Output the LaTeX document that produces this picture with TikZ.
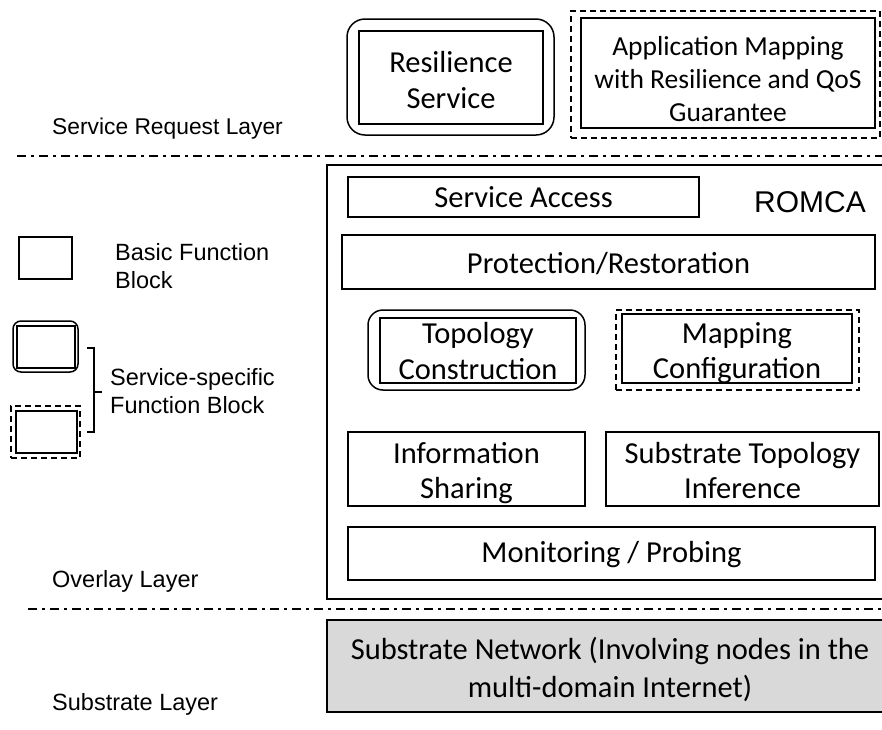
\documentclass[tikz,border=0pt]{standalone}
\usepackage{fontspec}
\newfontfamily\arialf{Liberation Sans}
\newfontfamily\calf{Carlito}
\definecolor{substrategray}{HTML}{D9D9D9}
\begin{document}
\begin{tikzpicture}[x=1pt,y=-1pt,
  % function block frame and its caption
  fb/.style={draw, line width=1.5pt, inner sep=0pt},
  fbtext/.style={inner sep=0pt, align=center,
    font=\calf\fontsize{30.5}{35.5}\selectfont,
    execute at begin node=\vphantom{lg}, execute at end node=\vphantom{lg}},
  shell/.style={draw, line width=1.5pt, inner sep=0pt},
  rshell/.style={shell, rounded corners=#1},
  dshell/.style={shell, dash pattern=on 6pt off 4pt},
  layerline/.style={line width=2pt, dash pattern=on 9pt off 5pt on 3pt off 5pt},
  lbl/.style={inner sep=0pt, align=left, font=\arialf\fontsize{23.5}{28}\selectfont},
]
\useasboundingbox (0,0) rectangle (882,729);
\clip (0,0) rectangle (882,729);

% ---------- service request layer ----------
\node[rshell=18pt, minimum width=207pt, minimum height=116pt] (resO) at (450.5,77) {};
\node[fb, minimum width=184pt, minimum height=93pt] (res) at (451,77.5) {};
\node[fbtext] (resT) at (451,82.6) {Resilience\\Service};

\node[dshell, minimum width=309pt, minimum height=127pt] (appO) at (725.5,74.5) {};
\node[fb, minimum width=294pt, minimum height=110pt] (app) at (728,73) {};
\node[fbtext, font=\calf\fontsize{27.5}{33}\selectfont] (appT) at (728,81.7)
  {Application Mapping\\with Resilience and QoS\\Guarantee};

\node[lbl, anchor=base west, font=\arialf\fontsize{22.8}{28}\selectfont]
  (lreq) at (52,134) {Service Request Layer};

% layer separators
\coordinate (sepAl) at (17,156);
\coordinate (sepAr) at (882,156);
\draw[layerline] (sepAl) -- (sepAr);
\coordinate (sepBl) at (28,609);
\coordinate (sepBr) at (882,609);
\draw[layerline] (sepBl) -- (sepBr);

% ---------- overlay layer: ROMCA ----------
\node[draw, line width=2pt, inner sep=0pt, minimum width=566pt, minimum height=434pt]
  (romca) at (610,382) {};
\node[inner sep=0pt, anchor=base, font=\arialf\fontsize{30}{34}\selectfont]
  (romcaT) at (810,212) {ROMCA};

\node[fb, minimum width=351pt, minimum height=40pt] (acc) at (523.5,197) {};
\node[fbtext] (accT) at (523.5,200) {Service Access};

\node[fb, minimum width=533pt, minimum height=54pt] (prot) at (608.5,262) {};
\node[fbtext] (protT) at (608.5,266) {Protection/Restoration};

\node[rshell=15pt, minimum width=217pt, minimum height=80pt] (topoO) at (476.5,350) {};
\node[fb, minimum width=196pt, minimum height=65pt] (topo) at (478,350.5) {};
\node[fbtext] (topoT) at (478,353.5) {Topology\\Construction};

\node[dshell, minimum width=243pt, minimum height=80pt] (mapO) at (737.5,350) {};
\node[fb, minimum width=230pt, minimum height=69pt] (map) at (737,348.5) {};
\node[fbtext] (mapT) at (737,353) {Mapping\\Configuration};

\node[fb, minimum width=237pt, minimum height=74pt] (info) at (466.5,469) {};
\node[fbtext] (infoT) at (466.5,473) {Information\\Sharing};

\node[fb, minimum width=273pt, minimum height=74pt] (infer) at (742.5,469) {};
\node[fbtext] (inferT) at (742.5,473) {Substrate Topology\\Inference};

\node[fb, minimum width=527pt, minimum height=53pt] (mon) at (611.5,553.5) {};
\node[fbtext] (monT) at (611.5,555) {Monitoring / Probing};

\node[lbl, anchor=base west] (lover) at (52,587) {Overlay Layer};

% ---------- substrate layer ----------
\node[fb, line width=2pt, fill=substrategray, minimum width=566pt, minimum height=92pt]
  (sub) at (610,666) {};
\node[fbtext, font=\calf\fontsize{30.5}{37.5}\selectfont] (subT) at (610,670)
  {Substrate Network (Involving nodes in the\\multi-domain Internet)};

\node[lbl, anchor=base west] (lsub) at (52,710) {Substrate Layer};

% ---------- legend ----------
\node[shell, minimum width=53pt, minimum height=42pt] (legBasic) at (45.5,258) {};
\node[lbl, anchor=west] (legBasicT) at (115,266) {Basic Function\\Block};

\node[rshell=8pt, minimum width=65pt, minimum height=51pt] (legRO) at (45.5,346.5) {};
\node[shell, minimum width=58pt, minimum height=42pt] (legRI) at (46,347) {};

\node[dshell, minimum width=69pt, minimum height=52pt] (legDO) at (45.5,432) {};
\node[shell, minimum width=61pt, minimum height=42pt] (legDI) at (46.5,432) {};

\coordinate (brT) at (87,348);
\coordinate (brTc) at (94,348);
\coordinate (brBc) at (94,432);
\coordinate (brB) at (87,432);
\coordinate (brMl) at (94,392);
\coordinate (brMr) at (102,392);
\draw[line width=1.5pt] (brT) -- (brTc) -- (brBc) -- (brB);
\draw[line width=1.5pt] (brMl) -- (brMr);
\node[lbl, anchor=west] (legSpecT) at (110,391) {Service-specific\\Function Block};
\end{tikzpicture}
\end{document}
